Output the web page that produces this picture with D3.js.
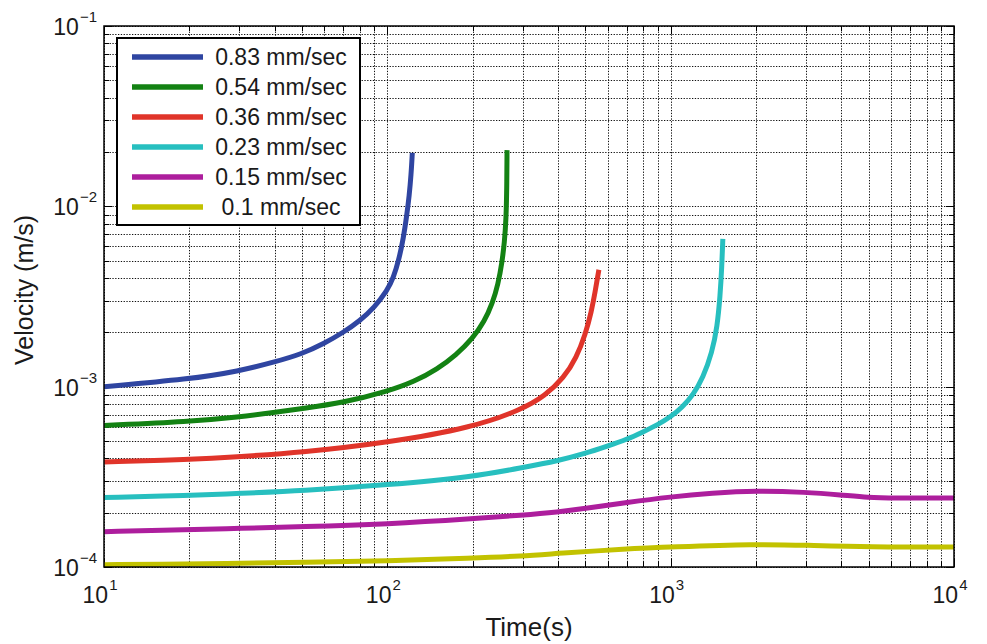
<!DOCTYPE html>
<html>
<head>
<meta charset="utf-8">
<script src="https://cdn.jsdelivr.net/npm/d3@7"></script>
<style>
  body { margin: 0; background: #fff; }
  svg text { font-family: "Liberation Sans", Arial, Helvetica, sans-serif; fill: #1a1a1a; }
</style>
</head>
<body>
<svg id="chart" width="987" height="644"></svg>
<script>
// series labels + colours (legend order)
const seriesNames = ["0.83 mm/sec", "0.54 mm/sec", "0.36 mm/sec", "0.23 mm/sec", "0.15 mm/sec", "0.1 mm/sec"];
const seriesColors = ["#2f45a1", "#138213", "#e0342a", "#27bfbf", "#ad1e9d", "#c2c200"];

// [time (s), velocity (m/s)]
const v083 = [[10,1.0e-3],[20,1.10e-3],[30,1.22e-3],[40,1.37e-3],[50,1.52e-3],[60,1.74e-3],[70,2.0e-3],[80,2.32e-3],[90,2.75e-3],[100,3.42e-3],[105,4.0e-3],[110,5.1e-3],[114,6.7e-3],[117,8.8e-3],[119.5,1.15e-2],[121.3,1.5e-2],[122.5,1.98e-2]];
const v054 = [[10,6.1e-4],[20,6.4e-4],[30,6.8e-4],[40,7.2e-4],[50,7.55e-4],[70,8.15e-4],[100,9.4e-4],[125,1.07e-3],[150,1.25e-3],[175,1.5e-3],[200,1.85e-3],[220,2.3e-3],[235,2.9e-3],[246,3.7e-3],[254,4.9e-3],[259,6.3e-3],[262.5,8.5e-3],[264,1.25e-2],[264.5,2.05e-2]];
const v036 = [[10,3.82e-4],[20,3.95e-4],[30,4.09e-4],[50,4.32e-4],[100,4.89e-4],[200,5.94e-4],[300,7.5e-4],[360,8.9e-4],[420,1.12e-3],[465,1.45e-3],[500,1.95e-3],[525,2.6e-3],[542,3.4e-3],[553,4.1e-3],[558,4.45e-3]];
const v023 = [[10,2.43e-4],[20,2.49e-4],[30,2.56e-4],[50,2.65e-4],[100,2.85e-4],[200,3.16e-4],[300,3.56e-4],[400,3.88e-4],[500,4.26e-4],[600,4.69e-4],[700,5.1e-4],[800,5.62e-4],[900,6.15e-4],[1000,6.8e-4],[1100,7.7e-4],[1200,9.0e-4],[1300,1.12e-3],[1400,1.55e-3],[1460,2.15e-3],[1495,3.2e-3],[1515,4.6e-3],[1528,6.6e-3]];
const v015 = [[10,1.57e-4],[20,1.61e-4],[30,1.64e-4],[50,1.67e-4],[100,1.73e-4],[200,1.85e-4],[300,1.94e-4],[400,2.02e-4],[500,2.11e-4],[700,2.28e-4],[1000,2.45e-4],[1400,2.57e-4],[2000,2.65e-4],[3000,2.60e-4],[4000,2.51e-4],[5000,2.43e-4],[6000,2.41e-4],[10000,2.41e-4]];
const v010 = [[10,1.03e-4],[20,1.04e-4],[30,1.05e-4],[50,1.06e-4],[100,1.08e-4],[200,1.12e-4],[300,1.15e-4],[400,1.19e-4],[700,1.26e-4],[1000,1.29e-4],[2000,1.34e-4],[3000,1.32e-4],[5000,1.29e-4],[10000,1.29e-4]];
const allSeries = [v083, v054, v036, v023, v015, v010];

// axis ticks
const xDecades = [1, 2, 3, 4];      // 10^1 .. 10^4
const yDecades = [-1, -2, -3, -4];  // 10^-1 .. 10^-4

const margin = { top: 26, left: 104, right: 33, bottom: 77 };
const width = 987 - margin.left - margin.right;
const height = 644 - margin.top - margin.bottom;

const svg = d3.select("#chart");
const g = svg.append("g").attr("transform", `translate(${margin.left},${margin.top})`);

const xScale = d3.scaleLog().domain([10, 1e4]).range([0, width]);
const yScale = d3.scaleLog().domain([1e-4, 1e-1]).range([height, 0]);

// all log ticks (1..9 per decade) for the dotted grid
const xTicks = xScale.ticks();
const yTicks = yScale.ticks();

const grid = g.append("g").attr("class", "grid")
    .attr("stroke", "#111").attr("stroke-width", 1).attr("stroke-dasharray", "1.3,1.5");
grid.selectAll("line.vx").data(xTicks).join("line")
    .attr("class", "vx")
    .attr("x1", d => Math.round(xScale(d)) + 0.5).attr("x2", d => Math.round(xScale(d)) + 0.5)
    .attr("y1", 0).attr("y2", height);
grid.selectAll("line.hy").data(yTicks).join("line")
    .attr("class", "hy")
    .attr("y1", d => Math.round(yScale(d)) + 0.5).attr("y2", d => Math.round(yScale(d)) + 0.5)
    .attr("x1", 0).attr("x2", width);

// inward ticks, matlab style, on all four sides
const tk = g.append("g").attr("stroke", "#000").attr("stroke-width", 1);
xTicks.forEach(d => {
    const x = Math.round(xScale(d)) + 0.5;
    const len = Number.isInteger(Math.log10(d)) ? 8 : 5;
    tk.append("line").attr("x1", x).attr("x2", x).attr("y1", height).attr("y2", height - len);
    tk.append("line").attr("x1", x).attr("x2", x).attr("y1", 0).attr("y2", len);
});
yTicks.forEach(d => {
    const y = Math.round(yScale(d)) + 0.5;
    const len = Math.abs(Math.log10(d) - Math.round(Math.log10(d))) < 1e-9 ? 8 : 5;
    tk.append("line").attr("y1", y).attr("y2", y).attr("x1", 0).attr("x2", len);
    tk.append("line").attr("y1", y).attr("y2", y).attr("x1", width).attr("x2", width - len);
});

// curves - b-spline smooths out reading noise in the sharp bends
const line = d3.line()
    .x(d => xScale(d[0]))
    .y(d => yScale(d[1]))
    .curve(d3.curveBasis);

g.append("clipPath").attr("id", "plotClip")
    .append("rect").attr("width", width).attr("height", height);

g.append("g").attr("clip-path", "url(#plotClip)")
    .selectAll("path.curve").data(allSeries).join("path")
    .attr("class", "curve")
    .attr("fill", "none")
    .attr("stroke", (d, i) => seriesColors[i])
    .attr("stroke-width", 5)
    .attr("d", line);

// frame
g.append("rect").attr("width", width).attr("height", height)
    .attr("fill", "none").attr("stroke", "#000").attr("stroke-width", 1.5);

// tick labels: 10 with superscript exponent
const xLab = g.append("g").attr("class", "x-labels");
xDecades.forEach(e => {
    const x = xScale(Math.pow(10, e));
    const t = xLab.append("text").attr("x", x - 4).attr("y", height + 36)
        .attr("text-anchor", "middle").style("font-size", "23px");
    t.append("tspan").text("10");
    t.append("tspan").attr("dy", -13).attr("dx", 1).style("font-size", "15px").text(e);
});

const yLab = g.append("g").attr("class", "y-labels");
yDecades.forEach(e => {
    const y = yScale(Math.pow(10, e));
    const t = yLab.append("text").attr("x", -7).attr("y", y + 9)
        .attr("text-anchor", "end").style("font-size", "23px");
    t.append("tspan").text("10");
    t.append("tspan").attr("dy", -13).attr("dx", 1).style("font-size", "15px").text("\u2212" + Math.abs(e));
});

// axis titles
svg.append("text")
    .attr("x", margin.left + width / 2).attr("y", 636)
    .attr("text-anchor", "middle").style("font-size", "26px")
    .text("Time(s)");
svg.append("text")
    .attr("transform", `translate(33, 290) rotate(-90)`)
    .attr("text-anchor", "middle").style("font-size", "25px")
    .text("Velocity (m/s)");

// legend
const legend = g.append("g").attr("transform", "translate(13, 12)");
legend.append("rect").attr("width", 243).attr("height", 187)
    .attr("fill", "#fff").attr("stroke", "#000").attr("stroke-width", 2);
const rows = legend.selectAll("g.row").data(seriesNames).join("g")
    .attr("class", "row")
    .attr("transform", (d, i) => `translate(0, ${19 + i * 30})`);
rows.append("line")
    .attr("x1", 15).attr("x2", 86)
    .attr("stroke", (d, i) => seriesColors[i]).attr("stroke-width", 5.5);
rows.append("text")
    .attr("x", 164).attr("y", 8)
    .attr("text-anchor", "middle").style("font-size", "23px")
    .text(d => d);
</script>
</body>
</html>
